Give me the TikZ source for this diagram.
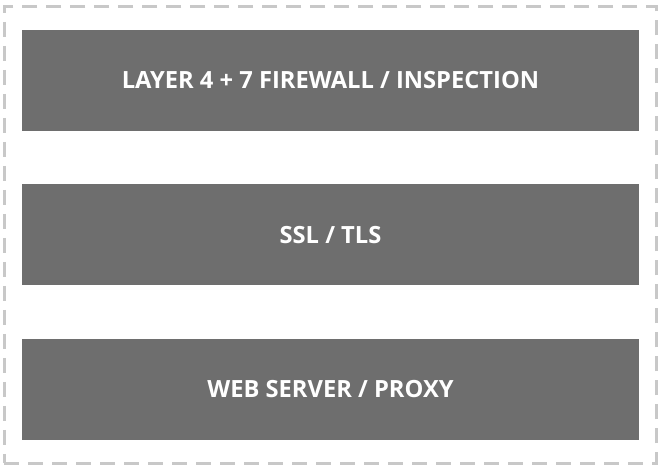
\documentclass[tikz,border=0pt]{standalone}
\usepackage{fontspec}
\setmainfont{Open Sans}
\usetikzlibrary{positioning,fit,backgrounds}
\definecolor{layergray}{HTML}{6E6E6E}
\definecolor{bordergray}{HTML}{C8C8C8}

\begin{document}
\begin{tikzpicture}[
  x=1pt,y=1pt,
  node distance=53pt,
  layer/.style={fill=layergray,minimum width=617pt,minimum height=101pt,inner sep=0pt,text=white,font=\bfseries\fontsize{23.7}{28}\selectfont},
  frame/.style={draw=bordergray,line width=3pt,dash pattern=on 15pt off 9pt}]
\useasboundingbox (0,0) rectangle (659,-466);
% stacked layers
\node[layer] (fw) at (330.5,-80.5) {LAYER 4 + 7 FIREWALL / INSPECTION};
\node[layer,below=of fw] (tls) {SSL / TLS};
\node[layer,below=of tls] (web) {WEB SERVER / PROXY};
% dashed outline
\begin{scope}[on background layer]
\node[frame,fit=(fw)(tls)(web),inner xsep=17.5pt,inner ysep=23pt] (stack) {};
\end{scope}
\end{tikzpicture}
\end{document}
